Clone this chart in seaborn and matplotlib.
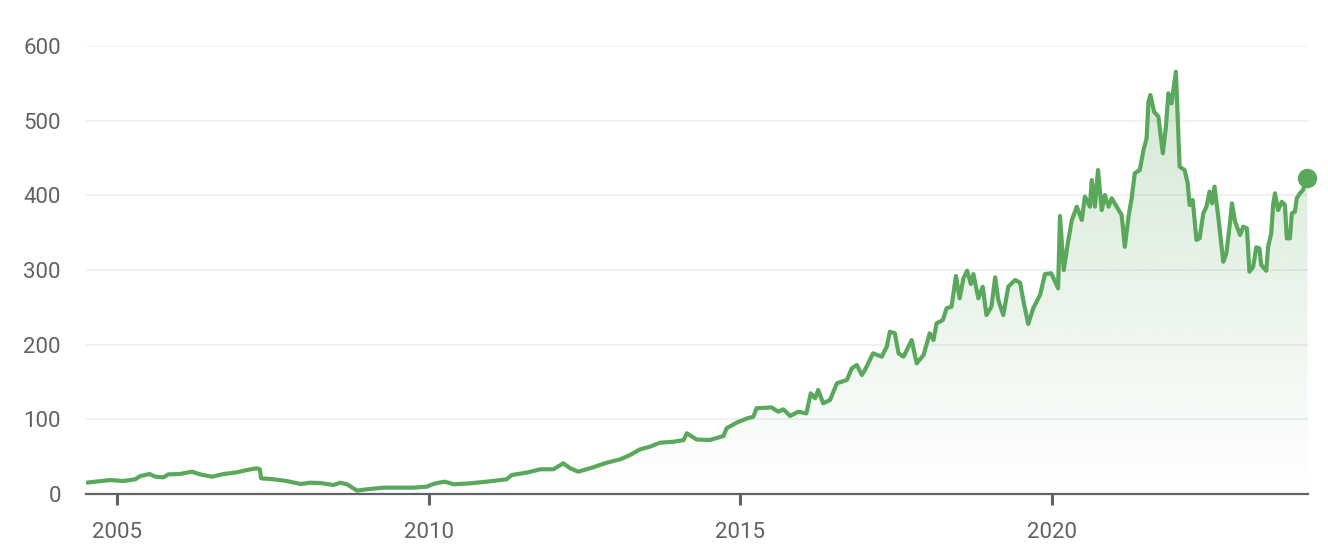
import numpy as np
import matplotlib
matplotlib.use("Agg")
import matplotlib.pyplot as plt
import seaborn as sb
import pandas as pd

# DATA
#-----------------------
years = [2004.51, 2004.89, 2005.10, 2005.29, 2005.37, 2005.52, 2005.61, 2005.74, 2005.82, 2006.01,
         2006.20, 2006.33, 2006.52, 2006.71, 2006.92, 2007.08, 2007.24, 2007.29, 2007.31, 2007.51,
         2007.72, 2007.94, 2008.10, 2008.26, 2008.47, 2008.58, 2008.69, 2008.85, 2009.01, 2009.27,
         2009.49, 2009.75, 2009.97, 2010.07, 2010.16, 2010.26, 2010.40, 2010.66, 2010.93, 2011.25,
         2011.33, 2011.57, 2011.79, 2012.00, 2012.16, 2012.27, 2012.40, 2012.64, 2012.86, 2013.07,
         2013.23, 2013.39, 2013.55, 2013.71, 2013.93, 2014.09, 2014.14, 2014.30, 2014.51, 2014.73,
         2014.78, 2014.94, 2015.10, 2015.21, 2015.26, 2015.50, 2015.61, 2015.69, 2015.80, 2015.93,
         2016.06, 2016.13, 2016.20, 2016.25, 2016.33, 2016.44, 2016.55, 2016.71, 2016.79, 2016.87,
         2016.95, 2017.00, 2017.13, 2017.27, 2017.35, 2017.40, 2017.48, 2017.54, 2017.62, 2017.75,
         2017.83, 2017.94, 2018.04, 2018.10, 2018.15, 2018.25, 2018.31, 2018.39, 2018.46, 2018.52,
         2018.58, 2018.64, 2018.70, 2018.74, 2018.82, 2018.89, 2018.95, 2019.03, 2019.09, 2019.14,
         2019.22, 2019.30, 2019.41, 2019.49, 2019.54, 2019.62, 2019.70, 2019.81, 2019.89, 2019.99,
         2020.10, 2020.13, 2020.19, 2020.26, 2020.32, 2020.40, 2020.48, 2020.53, 2020.61, 2020.64,
         2020.69, 2020.74, 2020.80, 2020.85, 2020.91, 2020.96, 2021.04, 2021.12, 2021.17, 2021.23,
         2021.28, 2021.33, 2021.41, 2021.47, 2021.52, 2021.55, 2021.58, 2021.64, 2021.71, 2021.78,
         2021.83, 2021.87, 2021.92, 2021.99, 2022.05, 2022.13, 2022.18, 2022.21, 2022.26, 2022.32,
         2022.37, 2022.43, 2022.48, 2022.53, 2022.57, 2022.61, 2022.67, 2022.75, 2022.80, 2022.86,
         2022.89, 2022.94, 2023.02, 2023.07, 2023.13, 2023.17, 2023.23, 2023.28, 2023.33, 2023.36,
         2023.44, 2023.47, 2023.52, 2023.55, 2023.58, 2023.63, 2023.69, 2023.74, 2023.77, 2023.82,
         2023.85, 2023.90, 2023.93, 2023.98, 2024.03, 2024.06, 2024.10]

prices = [15.2, 18.7, 17.4, 19.7, 24.0, 26.8, 23.2, 22.3, 26.3, 26.8,
          29.9, 26.3, 23.2, 26.8, 29.0, 32.1, 34.4, 33.1, 21.0, 19.7,
          17.4, 13.4, 15.1, 14.7, 12.1, 15.1, 13.0, 4.5, 6.3, 8.5,
          8.5, 8.5, 9.8, 13.4, 15.1, 16.5, 13.0, 14.3, 16.5, 19.7,
          25.4, 28.6, 33.1, 33.1, 41.1, 34.4, 29.9, 35.8, 42.0, 46.4,
          52.2, 59.8, 63.4, 68.7, 70.0, 72.3, 81.3, 73.0, 72.3, 77.7,
          88.0, 95.5, 101.0, 103.5, 114.8, 116.0, 110.2, 113.4, 104.5, 110.2,
          108.0, 134.8, 128.2, 139.3, 121.5, 125.9, 148.3, 152.7, 168.3, 172.8,
          159.4, 166.1, 188.4, 183.9, 197.3, 217.4, 215.2, 188.4, 183.9, 206.2,
          175.0, 186.2, 215.2, 206.2, 228.6, 233.0, 248.7, 250.9, 292.0, 262.1,
          288.9, 299.0, 281.2, 294.6, 262.1, 277.6, 239.7, 250.9, 290.2, 259.8,
          239.7, 277.6, 286.6, 283.0, 259.8, 227.7, 248.7, 266.5, 294.6, 295.6,
          275.5, 372.3, 300.0, 338.0, 367.0, 384.8, 367.0, 398.3, 384.8, 420.5,
          384.8, 433.9, 380.3, 400.4, 384.8, 396.0, 384.8, 373.6, 331.2, 371.4,
          396.0, 429.5, 433.9, 460.7, 476.4, 525.4, 534.4, 512.0, 505.3, 456.3,
          492.0, 536.6, 523.2, 565.6, 438.3, 433.9, 416.0, 387.0, 393.7, 340.2,
          342.4, 375.9, 384.8, 404.9, 389.3, 411.6, 371.4, 311.1, 322.3, 364.7,
          389.3, 364.7, 346.9, 358.0, 355.8, 297.7, 304.4, 330.4, 329.0, 306.7,
          299.0, 331.2, 349.1, 387.0, 402.7, 380.3, 391.4, 387.0, 342.4, 342.4,
          375.9, 378.1, 396.0, 402.7, 407.1, 416.0, 422.8]

y_ticks = [0, 100, 200, 300, 400, 500, 600]
x_ticks = [2005, 2010, 2015, 2020]

green = "#59a85c"
grey = "#5f6368"

# PLOT
#-----------------------
def price_chart(df):
    sb.set_style("white")
    plt.rcParams["font.family"] = ["Roboto", "DejaVu Sans"]

    fig = plt.figure(figsize=(13.28, 5.52), dpi=100)
    ax = fig.add_axes([86/1328, 58/552, 1222/1328, 448/552])

    sb.lineplot(data=df, x="year", y="price", color=green, linewidth=3.0, ax=ax, zorder=3)
    ax.lines[0].set_solid_joinstyle("round")

    # gradient under the line
    poly = ax.fill_between(df["year"], df["price"], 0, facecolor="none", edgecolor="none")
    top = df["price"].max()
    grad = np.zeros((256, 1, 4))
    grad[:, :, :3] = matplotlib.colors.to_rgb(green)
    grad[:, 0, 3] = np.linspace(0.27, 0.0, 256)
    im = ax.imshow(grad, aspect="auto", extent=[df["year"].min(), df["year"].max(), 0, top],
                   origin="upper", zorder=2)
    im.set_clip_path(poly.get_paths()[0], transform=ax.transData)

    # last value dot
    ax.plot(df["year"].iloc[-1], df["price"].iloc[-1], "o", color=green, markersize=13,
            clip_on=False, zorder=4)

    ax.set_xlim(2004.50, 2024.11)
    ax.set_ylim(0, 600)
    ax.set_xticks(x_ticks)
    ax.set_yticks(y_ticks)
    ax.set_xlabel("")
    ax.set_ylabel("")

    ax.yaxis.grid(True, color="#eeeeee", linewidth=1.2)
    ax.set_axisbelow(True)
    for s in ["top", "right", "left"]:
        ax.spines[s].set_visible(False)
    ax.spines["bottom"].set_color(grey)
    ax.spines["bottom"].set_linewidth(1.6)
    ax.spines["bottom"].set_zorder(5)

    ax.tick_params(axis="x", length=8, width=2.2, color=grey, labelcolor=grey,
                   labelsize=16, pad=12, bottom=True)
    ax.tick_params(axis="y", length=0, labelcolor=grey, labelsize=16, pad=18, left=False)

    fig.savefig("out.png", dpi=100)

# MAIN
#-----------------------
def main():
    df = pd.DataFrame({"year": years, "price": prices})
    price_chart(df)

if __name__ == "__main__":
    main()
